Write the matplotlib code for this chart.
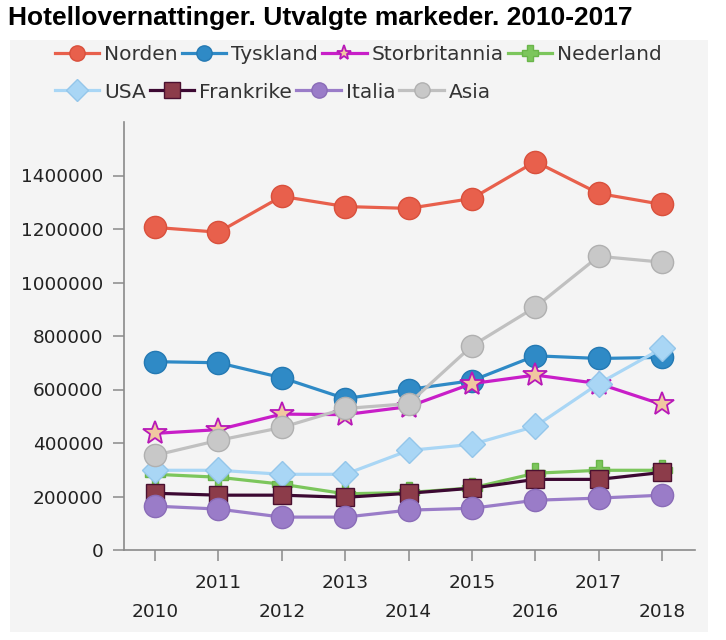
import matplotlib.pyplot as plt
from matplotlib.patches import Rectangle
import numpy as np

years = ["2010", "2011", "2012", "2013", "2014", "2015", "2016", "2017", "2018"]

norden = [1206000, 1188000, 1322000, 1284000, 1277000, 1314000, 1452000, 1333000, 1292000]
tyskland = [704000, 700000, 644000, 566000, 600000, 633000, 726000, 716000, 720000]
storbritannia = [436000, 450000, 508000, 506000, 536000, 622000, 654000, 622000, 544000]
nederland = [283000, 272000, 246000, 210000, 215000, 232000, 287000, 298000, 298000]
usa = [298000, 298000, 283000, 283000, 372000, 395000, 462000, 622000, 754000]
frankrike = [212000, 205000, 205000, 197000, 212000, 231000, 264000, 264000, 290000]
italia = [164000, 153000, 123000, 123000, 149000, 156000, 186000, 194000, 205000]
asia = [354000, 410000, 458000, 529000, 547000, 763000, 908000, 1098000, 1076000]

yticks = [0, 200000, 400000, 600000, 800000, 1000000, 1200000, 1400000]

fig = plt.figure(figsize=(7.26, 6.4), dpi=100)
fig.patch.set_facecolor("white")

# grå bakgrunnsboks bak diagrammet
fig.patches.append(Rectangle((10 / 726, 1 - 632 / 640), 698 / 726, 592 / 640,
                             transform=fig.transFigure, facecolor="#f4f4f4",
                             edgecolor="none", zorder=-5))

ax = fig.add_axes([124 / 726, 90 / 640, 571 / 726, 428 / 640])
ax.set_facecolor("none")
ax.set_zorder(1)

x = np.arange(len(years))

series = [
    ("Norden", norden, dict(color="#e8604c", marker="o", ms=16, mfc="#e8604c", mec="#d9503c")),
    ("Tyskland", tyskland, dict(color="#2f8ac6", marker="o", ms=16, mfc="#2f8ac6", mec="#2479b3")),
    ("Storbritannia", storbritannia, dict(color="#c81ec8", marker="*", ms=18, mfc="#f0c8a0", mec="#b818b8", mew=1.3)),
    ("Nederland", nederland, dict(color="#7cc65c", marker="P", ms=15, mfc="#7cc65c", mec="#6ab54a")),
    ("USA", usa, dict(color="#a9d6f5", marker="D", ms=13, mfc="#a9d6f5", mec="#94c6ea")),
    ("Frankrike", frankrike, dict(color="#3c0832", marker="s", ms=12.5, mfc="#8c3c4a", mec="#4a1030")),
    ("Italia", italia, dict(color="#9a7cc8", marker="o", ms=16, mfc="#9a7cc8", mec="#8a6cb8")),
    ("Asia", asia, dict(color="#c0c0c0", marker="o", ms=16, mfc="#c8c8c8", mec="#b0b0b0")),
]

handles = []
for name, vals, st in series:
    h, = ax.plot(x, vals, lw=2.3, label=name, **st)
    handles.append(h)

ax.set_xlim(-0.49, 8.52)
ax.set_ylim(0, 1600000)
ax.set_yticks(yticks)
ax.set_yticklabels([str(v) for v in yticks])
ax.set_xticks(x)
# forskjøvne årstall: partall på nederste rad
ax.set_xticklabels([y if i % 2 else "\n" + y for i, y in enumerate(years)], linespacing=1.8)

for s in ["top", "right"]:
    ax.spines[s].set_visible(False)
for s in ["left", "bottom"]:
    ax.spines[s].set_color("#8a8a8a")
    ax.spines[s].set_linewidth(1.2)

ax.tick_params(axis="y", length=8, width=1.1, color="#8a8a8a", pad=7, labelsize=13.3, labelcolor="#222222")
ax.tick_params(axis="x", length=8, width=1.1, color="#8a8a8a", pad=9, labelsize=13.3, labelcolor="#222222")

fig.text(8 / 726, 1 - 18 / 640, "Hotellovernattinger. Utvalgte markeder. 2010-2017",
         fontsize=19, fontweight="bold", family="Liberation Sans", va="center", ha="left")

leg_kw = dict(ncol=4, frameon=False, fontsize=14.5, handlelength=2.2, handletextpad=0.25,
              columnspacing=0.2, borderpad=0, borderaxespad=0, labelcolor="#333333")
leg1 = fig.legend(handles=handles[:4], loc="center left",
                  bbox_to_anchor=(55 / 726, 1 - 55 / 640), **leg_kw)
leg2 = fig.legend(handles=handles[4:], loc="center left",
                  bbox_to_anchor=(55 / 726, 1 - 92 / 640), **leg_kw)
for lg in (leg1, leg2):
    for lh in lg.legend_handles:
        lh.set_markersize(11)

fig.savefig("out.png", dpi=100)
